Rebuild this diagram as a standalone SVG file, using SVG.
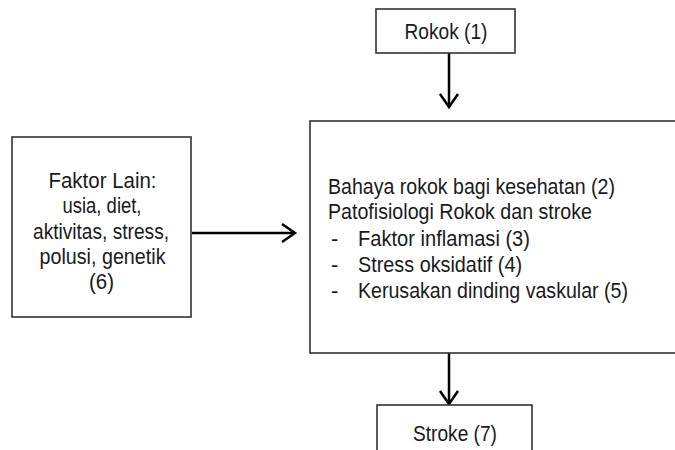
<svg xmlns="http://www.w3.org/2000/svg" width="675" height="450" viewBox="0 0 675 450">
<style>
.box{fill:#fff;stroke:#333;stroke-width:1.6}
.t{font-family:"Liberation Sans",Arial,sans-serif;font-size:22px;fill:#1a1a1a}
.c{text-anchor:middle}
.con{stroke:#000;stroke-width:2.5;fill:none}
</style>
<defs>
<marker id="ah" markerUnits="userSpaceOnUse" markerWidth="20" markerHeight="24" refX="14" refY="10" orient="auto" viewBox="0 0 20 20">
<path d="M1,1 L14,10 L1,19" fill="none" stroke="#000" stroke-width="2.5"/>
</marker>
</defs>
<rect width="675" height="450" fill="#fff"/>
<g id="connectors">
<line class="con" x1="449" y1="53" x2="449" y2="107" marker-end="url(#ah)"/>
<line class="con" x1="192" y1="233" x2="295" y2="233" marker-end="url(#ah)"/>
<line class="con" x1="449" y1="353" x2="449" y2="404" marker-end="url(#ah)"/>
</g>
<g id="rokok">
<rect class="box" x="376" y="9" width="139" height="44"/>
<text class="t c" x="446" y="39" textLength="83" lengthAdjust="spacingAndGlyphs">Rokok (1)</text>
</g>
<g id="faktor-lain">
<rect class="box" x="12" y="137" width="179" height="180"/>
<text class="t c" x="102.5" y="188" textLength="108" lengthAdjust="spacingAndGlyphs">Faktor Lain:</text>
<text class="t c" x="102" y="213" textLength="79" lengthAdjust="spacingAndGlyphs">usia, diet,</text>
<text class="t c" x="101" y="238.5" textLength="136" lengthAdjust="spacingAndGlyphs">aktivitas, stress,</text>
<text class="t c" x="102.5" y="263.5" textLength="126" lengthAdjust="spacingAndGlyphs">polusi, genetik</text>
<text class="t c" x="101.5" y="288.5" textLength="25" lengthAdjust="spacingAndGlyphs">(6)</text>
</g>
<g id="patofisiologi">
<rect class="box" x="310" y="121" width="370" height="232"/>
<text class="t" x="328" y="194" textLength="287" lengthAdjust="spacingAndGlyphs">Bahaya rokok bagi kesehatan (2)</text>
<text class="t" x="328" y="219" textLength="264" lengthAdjust="spacingAndGlyphs">Patofisiologi Rokok dan stroke</text>
<text class="t" x="331" y="246">-</text>
<text class="t" x="358" y="246" textLength="172" lengthAdjust="spacingAndGlyphs">Faktor inflamasi (3)</text>
<text class="t" x="331" y="272">-</text>
<text class="t" x="358" y="272" textLength="164" lengthAdjust="spacingAndGlyphs">Stress oksidatif (4)</text>
<text class="t" x="331" y="298">-</text>
<text class="t" x="358" y="298" textLength="270" lengthAdjust="spacingAndGlyphs">Kerusakan dinding vaskular (5)</text>
</g>
<g id="stroke">
<rect class="box" x="377" y="405" width="155" height="60"/>
<text class="t c" x="455" y="441" textLength="84" lengthAdjust="spacingAndGlyphs">Stroke (7)</text>
</g>
</svg>
